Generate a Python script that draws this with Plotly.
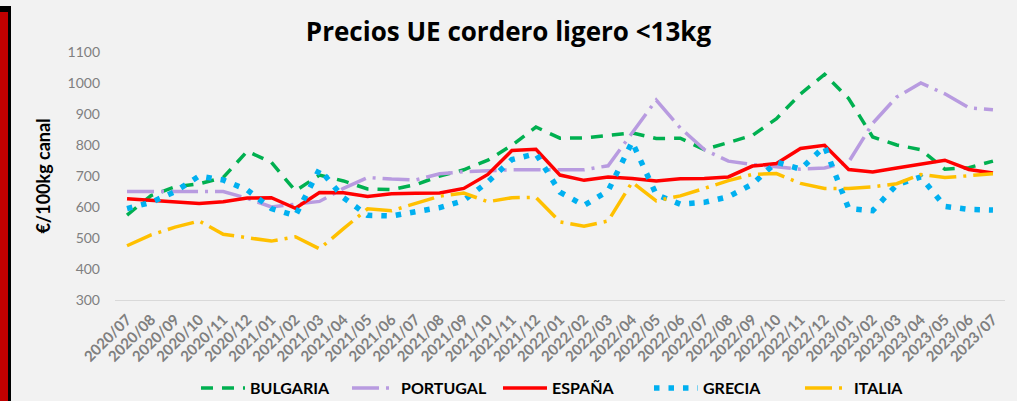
import plotly.graph_objects as go

months = ["2020/07", "2020/08", "2020/09", "2020/10", "2020/11", "2020/12",
          "2021/01", "2021/02", "2021/03", "2021/04", "2021/05", "2021/06",
          "2021/07", "2021/08", "2021/09", "2021/10", "2021/11", "2021/12",
          "2022/01", "2022/02", "2022/03", "2022/04", "2022/05", "2022/06",
          "2022/07", "2022/08", "2022/09", "2022/10", "2022/11", "2022/12",
          "2023/01", "2023/02", "2023/03", "2023/04", "2023/05", "2023/06",
          "2023/07"]

bulgaria = [574, 637, 665, 675, 695, 780, 744, 652, 703, 684, 658, 656, 672,
            700, 720, 751, 799, 858, 822, 823, 831, 839, 821, 822, 785, 809,
            831, 885, 965, 1028, 950, 826, 800, 785, 722, 727, 748]
portugal = [650, 650, 650, 650, 650, 628, 600, 609, 618, 660, 695, 690, 687,
            707, 714, 717, 720, 720, 720, 720, 733, 840, 945, 855, 785, 748,
            737, 730, 722, 726, 745, 870, 955, 1000, 965, 920, 914]
espana = [627, 622, 617, 611, 617, 629, 630, 596, 647, 646, 634, 643, 644,
          645, 660, 705, 782, 786, 703, 686, 697, 692, 684, 691, 692, 697,
          732, 740, 789, 799, 721, 713, 726, 738, 751, 721, 710]
grecia = [595, 615, 650, 700, 687, 655, 595, 572, 722, 630, 573, 571, 585,
          598, 621, 681, 753, 772, 648, 605, 652, 810, 640, 609, 615, 633,
          674, 745, 722, 795, 595, 588, 672, 697, 602, 592, 590]
italia = [475, 510, 535, 555, 512, 500, 490, 504, 465, 530, 594, 588, 611,
          635, 645, 617, 630, 631, 552, 538, 555, 680, 620, 636, 660, 685,
          705, 708, 676, 660, 660, 665, 675, 705, 695, 700, 707]

series = [
    ("BULGARIA", bulgaria, "#00b050", "12px,9px", 3.5),
    ("PORTUGAL", portugal, "#b89be0", "27px,7px,3px,7px", 3.5),
    ("ESPAÑA", espana, "#ff0000", "solid", 3.5),
    ("GRECIA", grecia, "#00b0f0", "5.5px,9px", 5.5),
    ("ITALIA", italia, "#ffc000", "27px,7px,3px,7px", 3.5),
]

fig = go.Figure()
for name, vals, color, dash, w in series:
    fig.add_trace(go.Scatter(
        x=months, y=vals, name=name, mode="lines",
        line=dict(color=color, width=w, dash=dash),
    ))

FONT = "Lato"
fig.update_layout(
    width=1017, height=401,
    paper_bgcolor="#f2f2f2", plot_bgcolor="#f2f2f2",
    margin=dict(l=115, r=12, t=52, b=101, autoexpand=False),
    title=dict(text="<b>Precios UE cordero ligero <13kg</b>",
               x=0.5, xanchor="center", y=1 - 32 / 401, yanchor="middle",
               font=dict(family="Open Sans", size=26, color="#000000")),
    xaxis=dict(type="category", range=[-0.5, 36.5], tickangle=-45,
               showgrid=False, zeroline=False, showline=True,
               linecolor="#d9d9d9", linewidth=1, ticks="",
               ticklabelstandoff=4,
               tickfont=dict(family=FONT, size=15, color="#7f7f7f",
                             weight="bold")),
    yaxis=dict(range=[300, 1100], dtick=100, showgrid=False,
               zeroline=False, showline=False, ticks="",
               ticklabelstandoff=14,
               tickfont=dict(family=FONT, size=14, color="#7f7f7f"),
               title=dict(text="<b>€/100kg canal</b>", standoff=12,
                          font=dict(family=FONT, size=18, color="#000000"))),
    legend=dict(orientation="h", x=0.091, xanchor="left", y=-0.355,
                yanchor="middle", bgcolor="rgba(0,0,0,0)",
                font=dict(family=FONT, size=16, color="#000000",
                          weight="bold"),
                itemwidth=44, entrywidth=92, entrywidthmode="pixels",
                tracegroupgap=0),
    shapes=[
        dict(type="rect", xref="paper", yref="paper",
             xsizemode="pixel", ysizemode="pixel", xanchor=0, yanchor=0,
             x0=-115, x1=-104, y0=-110, y1=294,
             fillcolor="#000000", line=dict(width=0), layer="above"),
        dict(type="rect", xref="paper", yref="paper",
             xsizemode="pixel", ysizemode="pixel", xanchor=0, yanchor=0,
             x0=-115, x1=-107, y0=-110, y1=288,
             fillcolor="#c00000", line=dict(width=0), layer="above"),
    ],
)

fig.write_html("out.html", config={"displayModeBar": False},
               post_script="document.body.style.margin='0';"
                           "document.body.style.padding='0';")
